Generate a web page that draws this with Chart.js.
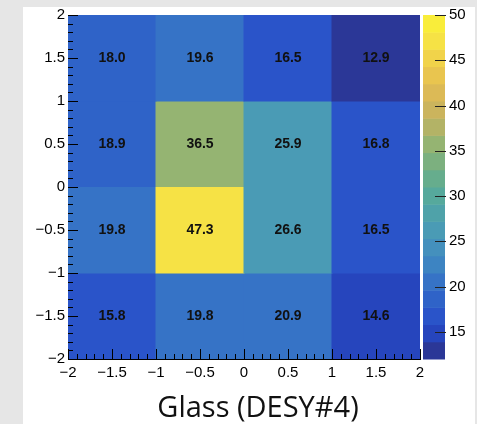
<!DOCTYPE html>
<html>
<head>
<meta charset="utf-8">
<script src="https://cdn.jsdelivr.net/npm/chart.js@4.4.1/dist/chart.umd.min.js"></script>
<style>
  body { margin: 0; background: #e6e6e6; }
  #panel { position: absolute; left: 23px; top: 7px; width: 452px; height: 417px; background: #fff; }
  #wrap { position: absolute; left: 0; top: 0; width: 477px; height: 390px; }
  #title { position: absolute; left: 0; width: 516px; top: 386px; text-align: center;
           font-family: 'Open Sans', sans-serif; font-size: 29px; color: #111; white-space: nowrap; }
</style>
</head>
<body>
<div id="panel"></div>
<div id="wrap"><canvas id="c"></canvas></div>
<div id="title">Glass (DESY#4)</div>
<script>
// bin centres along x, and y edges of each row (top row first)
const xBins = [-1.5, -0.5, 0.5, 1.5]
const yRows = [[1, 2], [0, 1], [-1, 0], [-2, -1]]
const rowValues = [
  [18.0, 19.6, 16.5, 12.9],
  [18.9, 36.5, 25.9, 16.8],
  [19.8, 47.3, 26.6, 16.5],
  [15.8, 19.8, 20.9, 14.6]
]
const zMin = 12
const zMax = 50

// 20 contour colours, bottom to top of the colour bar
const palette = ['#2b3797', '#2645bd', '#2a54c9', '#2f63c8', '#3673c6', '#3d84c2', '#4490bd', '#4a9bb5',
  '#4fa2a9', '#56a99c', '#66ad8d', '#7cb07f', '#95b472', '#b3b366', '#cbb45d', '#dcba56',
  '#e9c54f', '#f1d34a', '#f6e245', '#f9ed3a']

function colorFor(v) {
  let i = Math.floor((v - zMin) / (zMax - zMin) * palette.length)
  i = Math.max(0, Math.min(palette.length - 1, i))
  return palette[i]
}

function fmt(v) {
  return v < 0 ? '\u2212' + Math.abs(v) : String(v)
}

const tickFont = { family: '"Liberation Sans", Arial, sans-serif', size: 15 }

const rootDecor = {
  id: 'rootDecor',
  afterDatasetsDraw(chart) {
    const { ctx, chartArea: a, scales: { x, y } } = chart
    ctx.save()
    // numbers in the cells
    ctx.font = 'bold 14px "Liberation Sans", Arial, sans-serif'
    ctx.fillStyle = '#111'
    ctx.textAlign = 'center'
    ctx.textBaseline = 'middle'
    rowValues.forEach((row, r) => {
      row.forEach((v, c) => {
        const px = x.getPixelForValue(xBins[c])
        const py = y.getPixelForValue((yRows[r][0] + yRows[r][1]) / 2)
        ctx.fillText(v.toFixed(1), px, py)
      })
    })

    // ticks drawn inside the frame, major + 4 minor
    ctx.strokeStyle = '#000'
    ctx.lineWidth = 1
    ctx.beginPath()
    const xt = x.ticks.map(t => t.value)
    xt.forEach((v, i) => {
      const px = Math.round(x.getPixelForValue(v)) + 0.5
      ctx.moveTo(px, a.bottom); ctx.lineTo(px, a.bottom - 10)
      if (i < xt.length - 1) {
        const step = (xt[i + 1] - v) / 5
        for (let k = 1; k < 5; k++) {
          const mx = Math.round(x.getPixelForValue(v + k * step)) + 0.5
          ctx.moveTo(mx, a.bottom); ctx.lineTo(mx, a.bottom - 5)
        }
      }
    })
    const yt = y.ticks.map(t => t.value)
    yt.forEach((v, i) => {
      const py = Math.round(y.getPixelForValue(v)) + 0.5
      ctx.moveTo(a.left, py); ctx.lineTo(a.left + 10, py)
      if (i < yt.length - 1) {
        const step = (yt[i + 1] - v) / 5
        for (let k = 1; k < 5; k++) {
          const my = Math.round(y.getPixelForValue(v + k * step)) + 0.5
          ctx.moveTo(a.left, my); ctx.lineTo(a.left + 5, my)
        }
      }
    })
    ctx.stroke()
    ctx.restore()
  },
  afterDraw(chart) {
    const { ctx, chartArea: a, scales: { z } } = chart
    const left = a.right + 3
    const w = 22
    const step = (zMax - zMin) / palette.length
    ctx.save()
    palette.forEach((col, i) => {
      const y1 = z.getPixelForValue(zMin + (i + 1) * step)
      const y2 = z.getPixelForValue(zMin + i * step)
      ctx.fillStyle = col
      ctx.fillRect(left, y1, w, y2 - y1 + 0.5)
    })
    ctx.strokeStyle = '#222'
    ctx.lineWidth = 1
    ctx.beginPath()
    z.ticks.forEach(t => {
      const py = Math.round(z.getPixelForValue(t.value)) + 0.5
      ctx.moveTo(left + 12, py); ctx.lineTo(left + w + 1, py)
    })
    ctx.stroke()
    ctx.restore()
  }
}

// one floating-bar dataset per row; the bar ruler uses the 0.5 tick spacing,
// so barPercentage 2 makes each bar one full bin wide
const datasets = rowValues.map((row, r) => ({
  label: 'row ' + r,
  data: row.map((v, c) => ({ x: xBins[c], y: yRows[r] })),
  backgroundColor: ctx => colorFor(row[ctx.dataIndex]),
  borderWidth: 0,
  inflateAmount: 0.5,
  grouped: false,
  barPercentage: 2,
  categoryPercentage: 1
}))

new Chart(document.getElementById('c'), {
  type: 'bar',
  data: { datasets },
  plugins: [rootDecor],
  options: {
    responsive: true,
    maintainAspectRatio: false,
    animation: false,
    layout: { padding: { top: 15, left: 0, right: 0, bottom: 0 } },
    plugins: { legend: { display: false }, tooltip: { enabled: false } },
    scales: {
      x: {
        type: 'linear',
        min: -2, max: 2,
        offset: false,
        grid: { offset: false, drawOnChartArea: false, drawTicks: false },
        border: { display: true, color: '#000', width: 1 },
        ticks: { stepSize: 0.5, font: tickFont, color: '#000', padding: 5, maxRotation: 0, autoSkip: false, callback: fmt },
        afterFit: s => { s.height = 31 }
      },
      y: {
        type: 'linear',
        min: -2, max: 2,
        grid: { drawOnChartArea: false, drawTicks: false },
        border: { display: true, color: '#000', width: 1 },
        ticks: { stepSize: 0.5, font: tickFont, color: '#000', padding: 3, autoSkip: false, callback: fmt },
        afterFit: s => { s.width = 68 }
      },
      z: {
        type: 'linear',
        axis: 'y',
        position: 'right',
        min: zMin, max: zMax,
        // transparent tick marks just reserve room for the colour bar
        grid: { drawOnChartArea: false, drawTicks: true, tickLength: 26, color: 'transparent' },
        border: { display: false },
        ticks: { stepSize: 5, includeBounds: false, font: tickFont, color: '#000', padding: 3 },
        afterFit: s => { s.width = 57 }
      }
    }
  }
})
</script>
</body>
</html>
